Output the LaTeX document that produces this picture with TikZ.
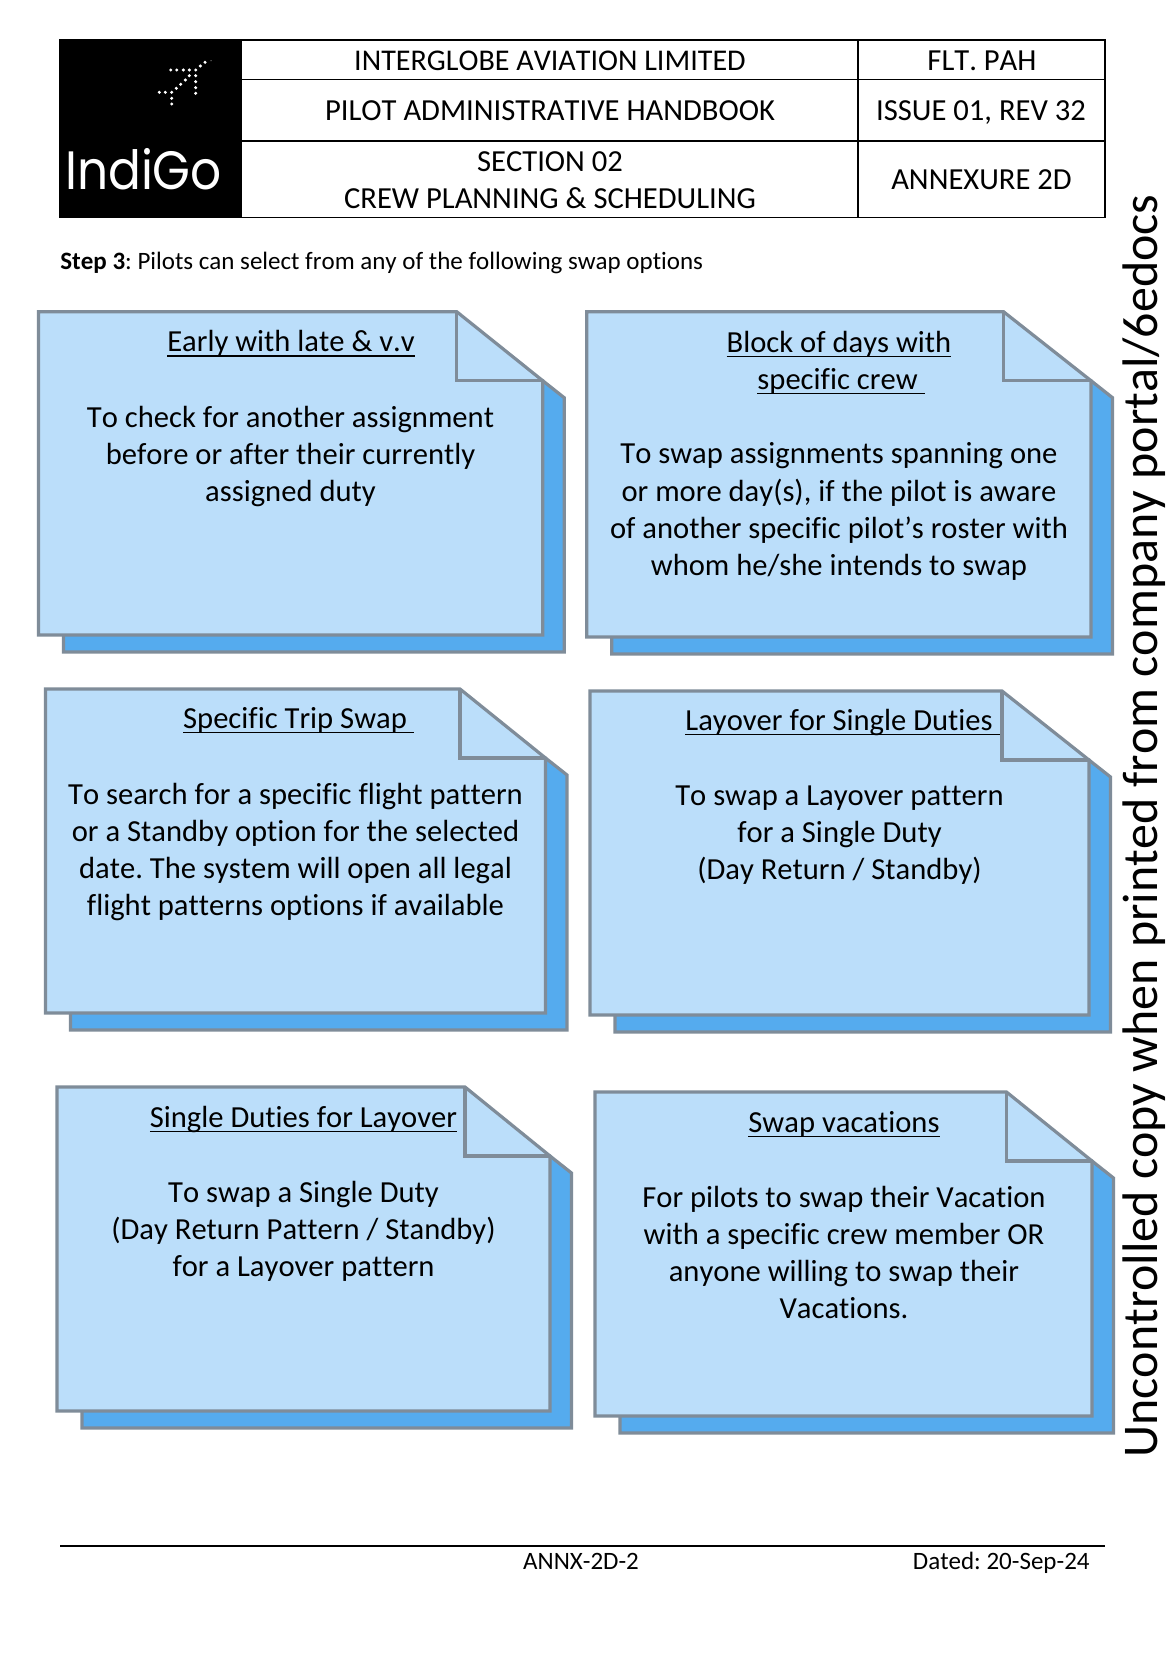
\documentclass[tikz,border=0pt]{standalone}
\usepackage{fontspec}
\setmainfont{Carlito}[Ligatures={TeX,NoCommon},Kerning=Off]
\AtBeginDocument{\frenchspacing}
\newcommand\ulx[1]{\setbox0\hbox{#1}\leavevmode\rlap{\copy0}\rlap{\raisebox{-2.4pt}{\rule{\wd0}{0.6pt}}}\hbox to \wd0{}}
% x0, y0, x1, y1, fold corner x
\newcommand\swapnote[5]{%
  \fill[notedark,draw=noteline,line width=1.6pt,line join=miter]
    ({#3},{#2+69})--({#3+21.5},{#2+86})--({#3+21.5},{#4+17})--({#1+25},{#4+17})--({#1+25},{#4})--cycle;
  \draw[draw=noteline,fill=notelight,line width=1.6pt,line join=miter]
    ({#1},{#2})--({#5},{#2})--({#3},{#2+69})--({#3},{#4})--({#1},{#4})--cycle;
  \draw[draw=noteline,line width=1.6pt,line join=miter]
    ({#5},{#2})--({#5},{#2+69})--({#3},{#2+69});
}
\definecolor{notelight}{HTML}{BBDEFA}
\definecolor{notedark}{HTML}{55ABEE}
\definecolor{noteline}{HTML}{7F8C99}
\tikzset{
  hdr/.style={inner sep=0pt,font=\fontsize{15.3}{18.5}\selectfont,align=center},
  notetext/.style={anchor=north,inner sep=0pt,align=center,font=\fontsize{15.3}{18.55}\selectfont,execute at begin node=\strut},
  small/.style={inner sep=0pt,font=\fontsize{12.5}{15}\selectfont},
  planedot/.style={fill=white,draw=none},
  tbl/.style={line width=0.6pt,black}
}
\begin{document}
\begin{tikzpicture}[x=0.5pt,y=-0.5pt]
\useasboundingbox (0,0) rectangle (1166,1654);
\fill[white] (0,0) rectangle (1166,1654);
% header
\fill[black] (60,40) rectangle (241.5,216.5);
\draw[tbl] (60,40) rectangle (1105,217.5);
\draw[tbl] (241.5,40)--(241.5,217.5);
\draw[tbl] (858,40)--(858,217.5);
\draw[tbl] (241.5,79.5)--(1105,79.5);
\draw[line width=0.8pt] (241.5,140.7)--(1105,140.7);
\foreach \x/\y in {205/62.3,200.3/66,195.7/70,189.3/75.7,185.3/80,180.7/84.3,176.3/88.3,171.7/92.3,
  170.7/70,176.7/70,183.3/70,189.3/70,
  195.7/75.7,195.7/81.7,195.7/87.7,195.7/93.3,
  159.3/92.3,165.3/92.3,171.7/98.3,171.7/104}
  \fill[planedot] (\x,\y) circle (1.7);
\fill[gray] (211,60.7) circle (0.7);
\node[inner sep=0pt,text=white,xscale=0.9,font=\fontspec{Poppins}\fontsize{27}{30}\selectfont] (logo) at (143.5,169.5) {IndiGo};
\node[hdr,font=\fontsize{15.05}{18.5}\selectfont] (h1) at (550,61) {INTERGLOBE AVIATION LIMITED};
\node[hdr] (h2) at (550,111) {PILOT ADMINISTRATIVE HANDBOOK};
\node[hdr] (h3) at (550,180) {SECTION 02\\CREW PLANNING \& SCHEDULING};
\node[hdr] (r1) at (982,61) {FLT. PAH};
\node[hdr] (r2) at (981,113) {ISSUE 01, REV 32};
\node[hdr] (r3) at (981.5,180) {ANNEXURE 2D};
\node[small,anchor=base west] (step) at (60,269) {\textbf{Step 3}: Pilots can select from any of the following swap options};
% notes
\swapnote{38.5}{311.7}{542.7}{635}{456.7}
\swapnote{586.7}{311.7}{1091}{637}{1003.5}
\swapnote{45.4}{689}{545.5}{1013}{460}
\swapnote{590}{691}{1089}{1015}{1002}
\swapnote{57}{1087}{550}{1411}{465}
\swapnote{595}{1092}{1092}{1416}{1006.5}
\node[notetext] (t1) at (291,325.5) {\ulx{Early with late \& v.v}};
\node[notetext] (b1) at (290.5,405.5) {To check for another assignment\\before or after their currently\\assigned duty};
\node[notetext] (t2) at (839,330.5) {\ulx{Block of days with}\\\hspace*{2pt}\ulx{specific crew\ }};
\node[notetext] (b2) at (839,442.5) {To swap assignments spanning one\\or more day(s), if the pilot is aware\\of another specific pilot’s roster with\\whom he/she intends to swap};
\node[notetext] (t3) at (298.5,702) {\ulx{Specific Trip Swap\ }};
\node[notetext] (b3) at (295.5,782.5) {To search for a specific flight pattern\\or a Standby option for the selected\\date. The system will open all legal\\flight patterns options if available};
\node[notetext] (t4) at (842.5,704) {\ulx{Layover for Single Duties\ }};
\node[notetext] (b4) at (839.5,785) {To swap a Layover pattern\\for a Single Duty\\(Day Return / Standby)};
\node[notetext] (t5) at (303.5,1101) {\ulx{Single Duties for Layover}};
\node[notetext] (b5) at (303.5,1180.5) {To swap a Single Duty\\(Day Return Pattern / Standby)\\for a Layover pattern};
\node[notetext] (t6) at (844,1106) {\ulx{Swap vacations}};
\node[notetext] (b6) at (844,1185.5) {For pilots to swap their Vacation\\with a specific crew member OR\\anyone willing to swap their\\Vacations.};
% footer
\draw[line width=0.8pt] (60,1546)--(1105,1546);
\node[small,anchor=base] (f1) at (581,1569) {ANNX-2D-2};
\node[small,anchor=base east] (f2) at (1090,1569) {Dated: 20-Sep-24};
\node[inner sep=0pt,rotate=90,font=\fontsize{24.98}{28}\selectfont] (wm) at (1144,826) {Uncontrolled copy when printed from company portal/6edocs};
\end{tikzpicture}
\end{document}
